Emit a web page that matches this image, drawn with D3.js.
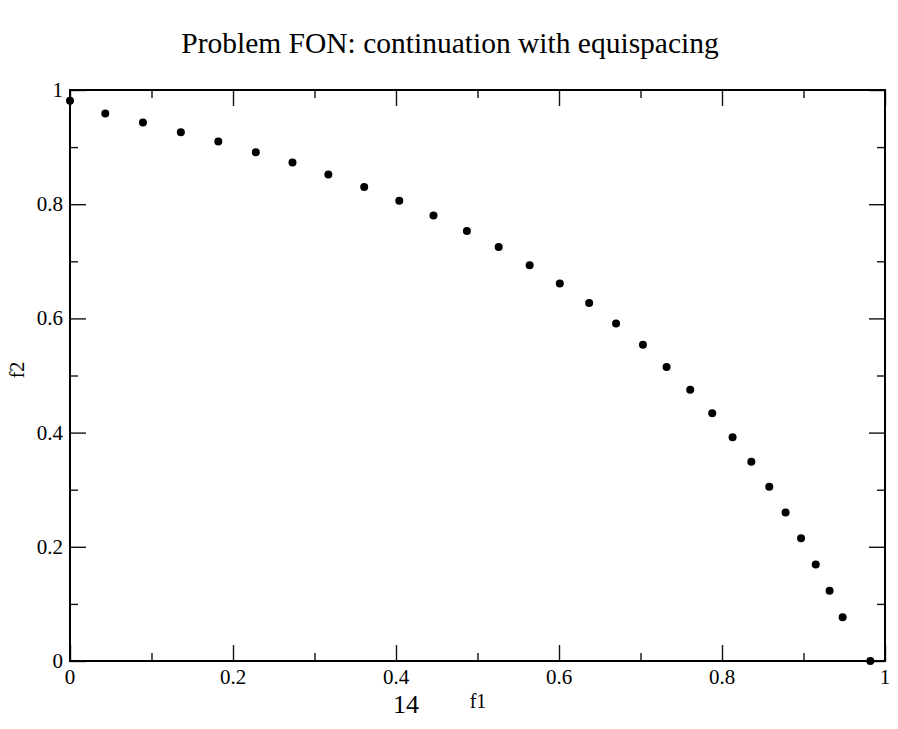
<!DOCTYPE html>
<html>
<head>
<meta charset="utf-8">
<script src="https://cdn.jsdelivr.net/npm/d3@7"></script>
<style>
  html, body { margin: 0; padding: 0; background: #fff; }
  svg text { font-family: "Liberation Serif", "Times New Roman", serif; fill: #000; }
</style>
</head>
<body>
<svg id="chart" width="898" height="729"></svg>
<script>
// Pareto front points (f1, f2)
const f1 = [0, 0.0433, 0.0895, 0.136, 0.182, 0.228, 0.273, 0.317, 0.361, 0.404,
            0.446, 0.487, 0.526, 0.564, 0.601, 0.637, 0.670, 0.703, 0.732, 0.761,
            0.788, 0.813, 0.836, 0.858, 0.878, 0.897, 0.915, 0.932, 0.948, 0.982];
const f2 = [0.981, 0.959, 0.943, 0.926, 0.910, 0.891, 0.873, 0.852, 0.830, 0.806,
            0.780, 0.753, 0.725, 0.693, 0.661, 0.627, 0.591, 0.554, 0.515, 0.475,
            0.434, 0.392, 0.349, 0.305, 0.260, 0.215, 0.169, 0.123, 0.0765, 0];
const majorTicks = [0, 0.2, 0.4, 0.6, 0.8, 1];
const minorTicks = [0.1, 0.3, 0.5, 0.7, 0.9];
const tickLabels = ["0", "0.2", "0.4", "0.6", "0.8", "1"];

const svg = d3.select("#chart");
const L = 70, R = 885, T = 90, B = 661;
const x = d3.scaleLinear().domain([0, 1]).range([L, R]);
const y = d3.scaleLinear().domain([0, 1]).range([B, T]);

const fmt = d => tickLabels[majorTicks.findIndex(t => Math.abs(t - d) < 1e-9)];

function styleAxis(g) {
  g.select(".domain").remove();
  g.selectAll(".tick line").attr("stroke", "#111").attr("stroke-width", 1.4);
}

// Bottom axis: ticks pointing inward, labels below
svg.append("g").attr("transform", `translate(0,${B})`)
  .call(d3.axisTop(x).tickValues(majorTicks).tickSize(16).tickFormat("")).call(styleAxis);
svg.append("g").attr("transform", `translate(0,${B})`)
  .call(d3.axisTop(x).tickValues(minorTicks).tickSize(8).tickFormat("")).call(styleAxis);
svg.append("g").selectAll("text").data(majorTicks).join("text")
  .attr("x", d => x(d)).attr("y", B + 23)
  .attr("text-anchor", "middle").attr("font-size", 21).text(fmt);

// Top axis
svg.append("g").attr("transform", `translate(0,${T})`)
  .call(d3.axisBottom(x).tickValues(majorTicks).tickSize(16).tickFormat("")).call(styleAxis);
svg.append("g").attr("transform", `translate(0,${T})`)
  .call(d3.axisBottom(x).tickValues(minorTicks).tickSize(8).tickFormat("")).call(styleAxis);

// Left axis
svg.append("g").attr("transform", `translate(${L},0)`)
  .call(d3.axisRight(y).tickValues(majorTicks).tickSize(16).tickFormat("")).call(styleAxis);
svg.append("g").attr("transform", `translate(${L},0)`)
  .call(d3.axisRight(y).tickValues(minorTicks).tickSize(8).tickFormat("")).call(styleAxis);
svg.append("g").selectAll("text").data(majorTicks).join("text")
  .attr("x", L - 7).attr("y", d => y(d)).attr("dy", "0.33em")
  .attr("text-anchor", "end").attr("font-size", 21).text(fmt);

// Right axis
svg.append("g").attr("transform", `translate(${R},0)`)
  .call(d3.axisLeft(y).tickValues(majorTicks).tickSize(16).tickFormat("")).call(styleAxis);
svg.append("g").attr("transform", `translate(${R},0)`)
  .call(d3.axisLeft(y).tickValues(minorTicks).tickSize(8).tickFormat("")).call(styleAxis);

// Frame
svg.append("rect").attr("x", L).attr("y", T).attr("width", R - L).attr("height", B - T)
  .attr("fill", "none").attr("stroke", "#000").attr("stroke-width", 2);

// Points
svg.append("g").selectAll("circle").data(f1.map((v, i) => [v, f2[i]])).join("circle")
  .attr("cx", d => x(d[0])).attr("cy", d => y(d[1])).attr("r", 4).attr("fill", "#000");

// Title and axis labels
svg.append("text").attr("x", 450).attr("y", 53).attr("text-anchor", "middle")
  .attr("font-size", 29.5).text("Problem FON: continuation with equispacing");
svg.append("text").attr("x", 478).attr("y", 708).attr("text-anchor", "middle")
  .attr("font-size", 20).text("f1");
svg.append("text").attr("x", 406).attr("y", 713).attr("text-anchor", "middle")
  .attr("font-size", 26).text("14");
svg.append("text").attr("transform", "translate(24,370) rotate(-90)")
  .attr("text-anchor", "middle").attr("font-size", 20).text("f2");
</script>
</body>
</html>
